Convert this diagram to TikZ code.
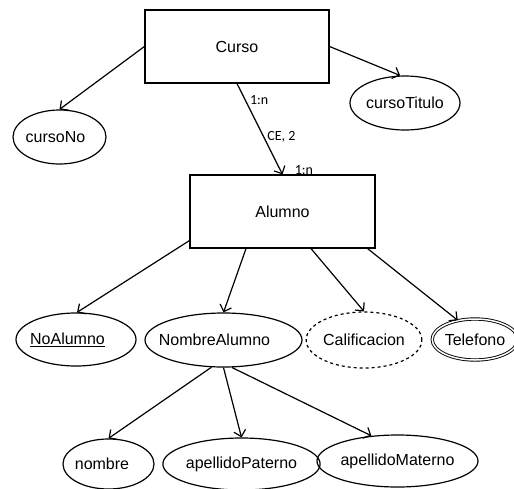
\documentclass[tikz,border=0pt]{standalone}
\usepackage{fontspec}
\setmainfont{Liberation Sans}
\newfontfamily\labelfont{Carlito}
\usetikzlibrary{shapes.geometric,arrows.meta}
% text set a little left of the centre of its ellipse
\newcommand{\leftset}[2]{\makebox[0pt][c]{#1\hspace*{#2}}}
\begin{document}
\begin{tikzpicture}[x=1pt,y=-1pt,
  font=\fontsize{16}{18}\selectfont,
  entity/.style={draw,line width=1.2pt,rectangle,minimum width=184pt,minimum height=73pt,inner sep=0pt},
  attr/.style={draw,line width=1.2pt,ellipse,inner sep=0pt},
  link/.style={line width=1.2pt,-{Straight Barb[length=6pt,width=12pt,line width=1.2pt]}},
  card/.style={font=\labelfont\fontsize{14}{16}\selectfont,inner sep=0pt}]
\useasboundingbox (0,0) rectangle (514,488);
\fill[white] (0,0) rectangle (514,488);

% entities
\node[entity] (curso) at (237,46.5) {Curso};
\node[entity,minimum width=185pt] (alumno) at (282.5,211.5) {Alumno};

% attributes of Curso
\node[attr,minimum width=93pt,minimum height=54pt] (cursono) at (59.5,137) {\leftset{cursoNo}{8pt}};
\node[attr,minimum width=110pt,minimum height=54pt] (cursotitulo) at (405,103) {cursoTitulo};

% attributes of Alumno
\node[attr,minimum width=120pt,minimum height=53pt] (noalumno) at (76,339.5) {\leftset{\underline{NoAlumno}}{17pt}};
\node[attr,minimum width=157pt,minimum height=54pt] (nombrealumno) at (223.5,340) {\leftset{NombreAlumno}{18pt}};
\node[attr,dashed,minimum width=108pt,minimum height=56pt] (calif) at (364,340) {Calificacion};
\node[attr,double,double distance=1.5pt,line width=0.9pt,minimum width=82pt,minimum height=41pt] (telefono) at (475,339.5) {Telefono};

% parts of NombreAlumno
\node[attr,minimum width=91pt,minimum height=50pt] (nombre) at (108.5,464) {\leftset{nombre}{13pt}};
\node[attr,minimum width=137pt,minimum height=52pt] (appaterno) at (241.5,464) {apellidoPaterno};
\node[attr,minimum width=139pt,minimum height=52pt] (apmaterno) at (397.5,461) {apellidoMaterno};

% connectors
\draw[link] (curso.west) -- (cursono.north);
\draw[link] (curso.east) -- (cursotitulo.100);
\draw[link] (curso.south) --
  node[card,pos=0.185,anchor=west,xshift=4pt] {1:n}
  node[card,pos=0.587,anchor=west,xshift=3pt] {CE, 2}
  node[card,pos=0.95,anchor=west,xshift=14pt] {1:n}
  (alumno.north);

\draw[link] ([yshift=8pt]alumno.south west) -- (noalumno.88);
\draw[link] ([xshift=-36.5pt]alumno.south) -- (nombrealumno.north);
\draw[link] ([xshift=28.5pt]alumno.south) -- (calif.north);
\draw[link] ([xshift=-8pt]alumno.south east) -- (telefono.132);

\draw[link] (nombrealumno.-114) -- (nombre.north);
\draw[link] (nombrealumno.south) -- (appaterno.north);
\draw[link] (nombrealumno.-73) -- (apmaterno.136);
\end{tikzpicture}
\end{document}
